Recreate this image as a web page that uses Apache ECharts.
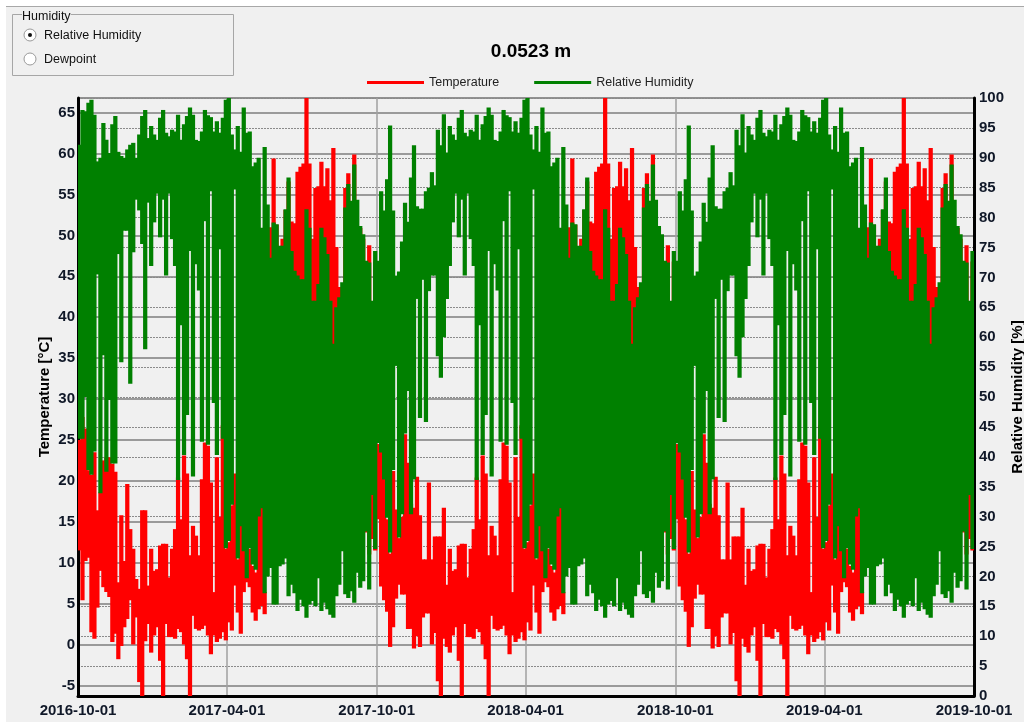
<!DOCTYPE html>
<html><head><meta charset="utf-8">
<style>html,body{margin:0;padding:0;background:#f0f0f0}#c{width:1024px;height:722px}</style>
<script src="https://cdn.jsdelivr.net/npm/echarts@6/dist/echarts.min.js"></script>
</head><body><div id="c"></div>
<script>
const dateLabels=['2016-10-01','2017-04-01','2017-10-01','2018-04-01','2018-10-01','2019-04-01','2019-10-01'];
const tempTicks=[-5,0,5,10,15,20,25,30,35,40,45,50,55,60,65];
// The picture repeats year on year; each array is read per ~3.65-day column.
const rhHighFirstWinter=[92.2,98,97.8,99.2,99.7,97.2,89.4,90,95.8,93,90.8,95.6,97,91,90.3,90,91.4,92.2,92.5,90,93.9,97,98,93.3];
const rhLowFirstWinter=[43,43,50,37.8,37,40.9,70.5,33.9,57,37.5,49.5,38.9,38.9,73.9,55.8,77.8,77.8,52.2,74.2,83,81.2,75.6,58,82.5];
const tempHighFirstWinter=[25,27.8,26.4,21.3,20.7,23.5,16.4,18.6,22.5,22.9,22.9,22.1,21.1,7.6,15.8,10.2,19.6,14.1,11.7,8,6.8,16.4,16.4,7.2];
const tempLowFirstWinter=[11.5,5.4,10.2,10.6,1.5,0.7,4.5,9,7,6.4,5.8,0.3,1.3,-1.8,-0.2,2.1,3.1,5.4,0,3.3,-4.6,-6.3,0.4,2.5];
const rhHighLaterWinter=[72.8,84.4,81.2,86.4,95.4,81.2,70.3,71,76,82.5,79.3,86.7,92.1,81.9,81.5,81.5,84.4,85,87.6,85.4,94.7,92.1,97.3,90.9];
const rhLowLaterWinter=[42.3,40.7,36.2,29.8,24,37.8,55.2,26.5,30.4,43.9,51,30.4,36.2,66.4,46.5,69.6,45.8,67.7,70.3,70.3,56.8,53.2,60,66.4];
const tempHighLaterWinter=[24.5,23.6,23.1,15.3,11.1,21.2,16.5,13,15.6,25.7,22.2,17.2,16.7,20.5,15.8,10.4,10.4,19.8,10.4,13.2,13.2,13.2,16.7,7.3];
const tempLowLaterWinter=[15.3,7.1,5.4,4,-0.3,2.1,5.6,7.3,6.1,6.1,1.9,1.9,-0.5,1,-0.3,3.3,3.8,3.8,0,1.4,-4.5,-6.4,0.7,-0.3];
const rhHighRest=[95.3,93.9,93,96.7,98,94.2,93.6,94.7,94.4,97.2,93,95.6,
97,98.4,97.2,93,92.8,94.4,98,97.1,96.8,94.4,96.1,94.2,96.7,99.7,100,93.9,91.4,95.3,91,98.4,94.2,94.4,88.6,89.2,90,78.3,91.8,82.2,73.3,79.2,78.9,75.3,75.3,81.4,
86.7,74.4,71.1,70.3,69.7,69.7,81.4,78.3,66.1,66.1,68.9,78.3,76.7,73.9,66.1,58.9,65,66.7,69.2,81.7,85.6,82.8,88.9,83,78.6,77.2,72.8,72.5,66.1,74.4];
const rhLowRest=[71.9,79.2,84,76.7,83,70.3,84,76.4,71.9,36.1,62,40.3,
47,74.4,36.7,72.2,67.8,42.5,79.4,42,84.4,49,40.3,74.7,43,24.7,25.9,32,84.7,23,28.4,24.2,19.7,24.7,22,21.1,30,31.4,17.2,20,21.4,15.3,15.3,21.7,22,23,
16.7,18.6,17.2,14.2,16.1,15,13.1,15.3,15.9,15,19.7,14.2,15.6,14.5,13.6,13.1,16.7,18.6,24.2,17,16.4,17.5,15.6,20.6,18.1,19.2,27.5,17.8,33.6,24.6];
const tempHighRest=[11.7,9,9.2,12.1,12.3,12.3,8.2,11.7,14.1,20.4,15.3,23.1,
20.9,10.9,14.5,13.3,10.9,20.2,24.7,24.3,19.8,6.4,22.9,15.6,26.8,11.7,12.5,17,20.9,10.4,19.8,14.1,13.1,11.7,9.6,8.8,16.4,48.4,6.4,48,51,59.4,51.3,43.1,49.6,53.1,
56.6,51.7,51.5,57.8,58.4,58.8,66.8,58.8,49.6,55.8,56,59,56,58.2,54.3,60.7,48.6,43.7,42.7,55.8,57.6,54.1,59.9,46,50.9,49.6,40.7,48.8,41.1,46.8];
const tempLowRest=[-1,1.1,2.1,-2,-6.4,2.5,0.9,0.9,0.7,1.9,1.5,0,
-1.8,-6.3,3.5,1.9,1.7,1.9,2.3,1.1,-1.2,1.1,0.3,0.7,1.5,0.5,2.7,1.7,7.2,3.9,1.3,6.4,7.6,7,3.9,2.9,4.3,4.7,3.7,12,13,14,14,12,12,13,
12,13,11,14,12,15,14,13,12,11,14,12,13,15,12,11,13,12,14,13,12,14,11,13,12,14,13.7,11,12.9,11.5];

const rhHigh=rhHighFirstWinter.concat(rhHighRest,rhHighLaterWinter,rhHighRest,rhHighLaterWinter,rhHighRest);
const rhLow=rhLowFirstWinter.concat(rhLowRest,rhLowLaterWinter,rhLowRest,rhLowLaterWinter,rhLowRest);
const tempHigh=tempHighFirstWinter.concat(tempHighRest,tempHighLaterWinter,tempHighRest,tempHighLaterWinter,tempHighRest);
const tempLow=tempLowFirstWinter.concat(tempLowRest,tempLowLaterWinter,tempLowRest,tempLowLaterWinter,tempLowRest);

const dateTicks=dateLabels.map(d=>Date.parse(d));
const xMin=dateTicks[0],xMax=dateTicks[dateTicks.length-1];
const step=(xMax-xMin)/rhHigh.length;
function columns(hi,lo){return hi.map((h,k)=>[xMin+(k+0.5)*step,lo[k],h]);}
function renderColumn(params,api){
  const a=api.coord([api.value(0),api.value(2)]),b=api.coord([api.value(0),api.value(1)]);
  const w=api.size([step,0])[0]*1.42;
  const r=echarts.graphic.clipRectByRect({x:a[0]-w/2,y:a[1],width:w,height:b[1]-a[1]},params.coordSys);
  return r&&{type:'rect',shape:r,style:{fill:api.visual('color')}};
}
const FONT='"Liberation Sans",Arial,sans-serif';
const INK='#101828';
const chart=echarts.init(document.getElementById('c'),null,{renderer:'canvas'});
chart.setOption({
 animation:false,backgroundColor:'#f0f0f0',
 textStyle:{fontFamily:FONT},
 title:{text:'0.0523 m',left:526,top:37,textAlign:'center',textStyle:{fontSize:19,fontWeight:'bold',color:'#000',fontFamily:FONT}},
 legend:{left:362,top:71,itemWidth:57,itemHeight:14,itemGap:35,icon:'path://M0 0H57V3H0Z',
  textStyle:{fontSize:12.5,color:'#222',fontFamily:FONT},
  data:['Temperature','Relative Humidity'],selectedMode:false},
 grid:{left:78,right:50,top:98,bottom:26,show:true,borderColor:'#333',borderWidth:1,backgroundColor:'transparent',outerBoundsMode:'none'},
 xAxis:{type:'value',min:xMin,max:xMax,scale:true,
  axisLine:{show:true,onZero:false,lineStyle:{color:'#000',width:3}},
  axisTick:{show:false,customValues:dateTicks},
  axisLabel:{customValues:dateTicks,showMinLabel:true,showMaxLabel:true,hideOverlap:false,margin:7,fontSize:15,fontWeight:'bold',color:INK,fontFamily:FONT,
    formatter:v=>dateLabels[dateTicks.indexOf(v)]||''},
  splitLine:{show:true,lineStyle:{color:'#a0a0a0',width:1.5}}},
 yAxis:[
  {type:'value',min:-6.3,max:66.8,position:'left',name:'Temperature [°C]',nameLocation:'middle',nameGap:26,nameMoveOverlap:false,
   nameTextStyle:{fontSize:15,fontWeight:'bold',color:'#000',fontFamily:FONT},
   axisLine:{show:true,onZero:false,lineStyle:{color:'#000',width:3}},
   axisTick:{show:false,customValues:tempTicks},
   axisLabel:{customValues:tempTicks,margin:3,fontSize:15,fontWeight:'bold',color:INK,fontFamily:FONT},
   splitLine:{show:true,lineStyle:{color:'#9a9a9a',width:2}}},
  {type:'value',min:0,max:100,interval:5,position:'right',name:'Relative Humidity [%]',nameLocation:'middle',nameGap:36,nameMoveOverlap:false,
   nameTextStyle:{fontSize:15,fontWeight:'bold',color:'#000',fontFamily:FONT},
   axisLine:{show:true,onZero:false,lineStyle:{color:'#000',width:3}},
   axisTick:{show:false},
   axisLabel:{margin:5,fontSize:15,fontWeight:'bold',color:INK,fontFamily:FONT},
   splitLine:{show:true,lineStyle:{color:'#8a8a8a',width:1,type:[2,1]}}}
 ],
 series:[
  {name:'Temperature',type:'custom',yAxisIndex:0,renderItem:renderColumn,encode:{x:0,y:[1,2]},
   itemStyle:{color:'#ff0000'},data:columns(tempHigh,tempLow),z:2},
  {name:'Relative Humidity',type:'custom',yAxisIndex:1,renderItem:renderColumn,encode:{x:0,y:[1,2]},
   itemStyle:{color:'#008000'},data:columns(rhHigh,rhLow),z:3}
 ],
 graphic:[
  {type:'rect',shape:{x:0,y:0,width:1024,height:6},style:{fill:'#fff'},silent:true},
  {type:'rect',shape:{x:0,y:6,width:1024,height:1},style:{fill:'#a8a8a8'},silent:true},
  {type:'rect',shape:{x:0,y:0,width:6,height:722},style:{fill:'#fff'},silent:true},
  {type:'rect',shape:{x:12.5,y:14.5,width:221,height:61},style:{fill:'none',stroke:'#a6a6a6',lineWidth:1},silent:true},
  {type:'text',x:22,y:10,style:{text:'Humidity',fontSize:12.5,fontFamily:FONT,fill:'#111',backgroundColor:'#f0f0f0'},silent:true},
  {type:'circle',shape:{cx:30,cy:35,r:6},style:{fill:'#fff',stroke:'#9a9a9a',lineWidth:1},silent:true},
  {type:'circle',shape:{cx:30,cy:35,r:2},style:{fill:'#111'},silent:true},
  {type:'circle',shape:{cx:30,cy:59,r:6},style:{fill:'#fff',stroke:'#9a9a9a',lineWidth:1},silent:true},
  {type:'text',x:44,y:29,style:{text:'Relative Humidity',fontSize:12.5,fontFamily:FONT,fill:'#111'},silent:true},
  {type:'text',x:44,y:53,style:{text:'Dewpoint',fontSize:12.5,fontFamily:FONT,fill:'#111'},silent:true}
 ]
});
</script></body></html>
